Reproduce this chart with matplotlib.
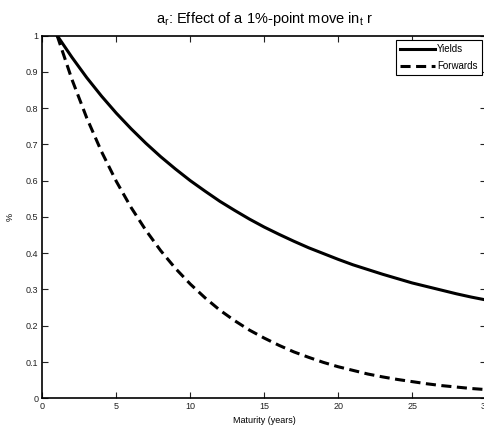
import matplotlib
matplotlib.use("Agg")
import matplotlib.pyplot as plt

# maturities in years and the response of yields / forwards
maturity = list(range(1, 31))
yields = [1.000, 0.940, 0.884, 0.833, 0.786, 0.743, 0.703, 0.666, 0.632, 0.600,
          0.571, 0.543, 0.518, 0.494, 0.472, 0.452, 0.433, 0.415, 0.399, 0.383,
          0.368, 0.355, 0.342, 0.330, 0.318, 0.308, 0.298, 0.288, 0.279, 0.271]
forwards = [1.000, 0.879, 0.773, 0.680, 0.598, 0.526, 0.463, 0.407, 0.358, 0.315,
            0.277, 0.243, 0.214, 0.188, 0.166, 0.146, 0.128, 0.113, 0.099, 0.087,
            0.077, 0.067, 0.059, 0.052, 0.046, 0.040, 0.035, 0.031, 0.027, 0.024]

xticks = [0, 5, 10, 15, 20, 25, 30]
yticks = [0, 0.1, 0.2, 0.3, 0.4, 0.5, 0.6, 0.7, 0.8, 0.9, 1]
ytick_labels = ['0', '0.1', '0.2', '0.3', '0.4', '0.5', '0.6', '0.7', '0.8', '0.9', '1']

plt.rcParams['font.family'] = ['Liberation Sans', 'DejaVu Sans']
plt.rcParams['mathtext.default'] = 'regular'

fig = plt.figure(figsize=(4.85, 4.3), dpi=100)
ax = fig.add_axes([0.0873, 0.0737, 0.915, 0.8437])

ax.plot(maturity, yields, color='black', linewidth=2.2, label='Yields')
ax.plot(maturity, forwards, color='black', linewidth=2.2, linestyle=(0, (3.3, 1.8)), label='Forwards')

ax.set_xlim(0, 30)
ax.set_ylim(0, 1)
ax.set_xticks(xticks)
ax.set_yticks(yticks)
ax.set_yticklabels(ytick_labels)
ax.tick_params(direction='in', length=4, width=0.8, labelsize=6.5, colors='#222222',
               top=True, right=True, pad=3)
for s in ax.spines.values():
    s.set_linewidth(1.2)

ax.set_xlabel('Maturity (years)', fontsize=6.5, labelpad=3)
ax.set_ylabel('%', fontsize=6.5, labelpad=8)
ax.set_title('a$_r$: Effect of a 1%-point move in$_t$ r', fontsize=10.5, pad=9)

leg = ax.legend(loc='upper right', fontsize=7, fancybox=False, framealpha=1,
                edgecolor='black', borderaxespad=0.45, handlelength=3.6,
                borderpad=0.45, labelspacing=0.7, handletextpad=0.15)
leg.get_frame().set_linewidth(0.8)

fig.savefig('out.png', dpi=100)
